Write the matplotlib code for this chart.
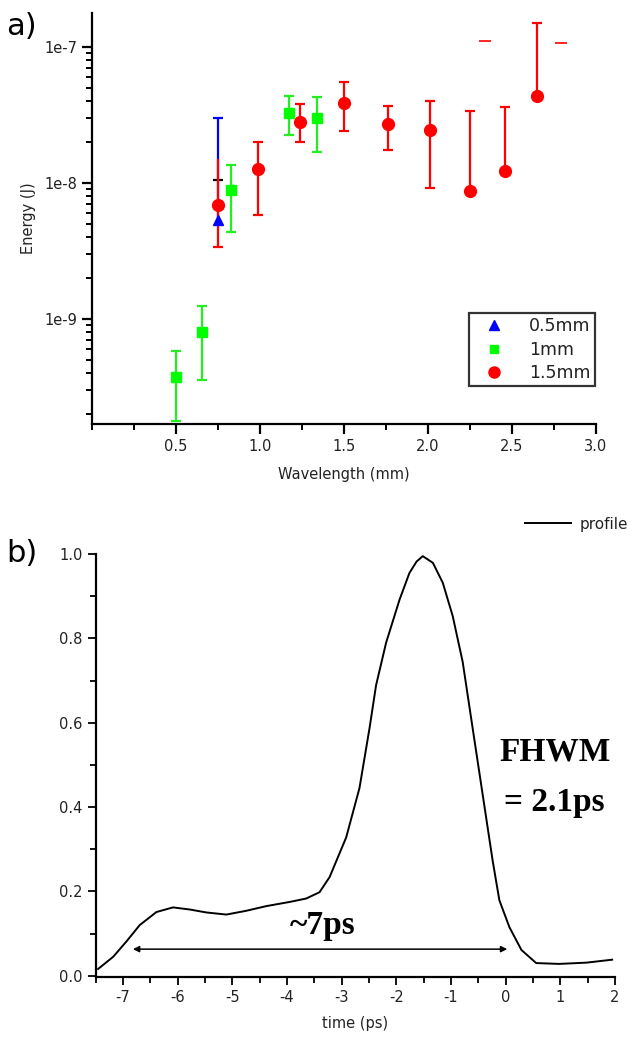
import matplotlib
matplotlib.use('Agg')
import matplotlib.pyplot as plt
from matplotlib.lines import Line2D
from matplotlib.ticker import LogLocator, NullFormatter, MultipleLocator

# panel a) energy vs wavelength
wl_05 = [0.75]
en_05 = [5.4e-9]
en_05_hi = [3.0e-8]

wl_10 = [0.50, 0.655, 0.83, 1.17, 1.34]
en_10 = [3.75e-10, 8.0e-10, 8.9e-9, 3.3e-8, 3.0e-8]
en_10_lo = [1.8e-10, 3.6e-10, 4.4e-9, 2.25e-8, 1.7e-8]
en_10_hi = [5.8e-10, 1.25e-9, 1.36e-8, 4.4e-8, 4.3e-8]

wl_15 = [0.75, 0.99, 1.24, 1.50, 1.76, 2.01, 2.25, 2.46, 2.65]
en_15 = [6.9e-9, 1.27e-8, 2.8e-8, 3.9e-8, 2.7e-8, 2.45e-8, 8.7e-9, 1.22e-8, 4.4e-8]
en_15_lo = [3.4e-9, 5.8e-9, 2.0e-8, 2.4e-8, 1.75e-8, 9.2e-9, 8.7e-9, 1.22e-8, 4.4e-8]
en_15_hi = [1.5e-8, 2.0e-8, 3.8e-8, 5.5e-8, 3.7e-8, 4.0e-8, 3.4e-8, 3.6e-8, 1.5e-7]
hi_cap_15 = [False, True, True, True, True, True, True, True, True]

# stray caps seen in the figure
stray_x = [2.34, 2.79]
stray_y = [1.1e-7, 1.07e-7]
black_cap_x = [0.75]
black_cap_y = [1.05e-8]

# panel b) temporal profile
t_ps = [-7.457, -7.18, -6.94, -6.696, -6.39, -6.087, -5.78, -5.476, -5.11, -4.745,
        -4.38, -3.95, -3.65, -3.405, -3.22, -3.13, -2.917, -2.674, -2.49, -2.37,
        -2.186, -1.94, -1.76, -1.63, -1.516, -1.33, -1.15, -0.968, -0.785, -0.603,
        -0.42, -0.237, -0.114, 0.07, 0.29, 0.56, 0.98, 1.48, 1.95]
profile = [0.016, 0.045, 0.081, 0.12, 0.151, 0.162, 0.157, 0.150, 0.145, 0.154,
           0.165, 0.175, 0.183, 0.198, 0.234, 0.262, 0.328, 0.445, 0.587, 0.689,
           0.79, 0.892, 0.955, 0.982, 0.995, 0.979, 0.932, 0.853, 0.744, 0.587,
           0.43, 0.273, 0.179, 0.115, 0.061, 0.03, 0.028, 0.031, 0.038]
arrow_t = [-6.82, 0.03]
arrow_y = 0.063

txt = '#222222'
plt.rcParams['font.family'] = 'DejaVu Sans'
plt.rcParams['axes.linewidth'] = 1.6
plt.rcParams['axes.unicode_minus'] = False

fig = plt.figure(figsize=(6.3, 10.41), dpi=100)
ax1 = fig.add_axes([0.146, 0.5927, 0.8, 0.3948])
ax2 = fig.add_axes([0.152, 0.0615, 0.824, 0.4063])

# ---- panel a
ax1.set_yscale('log')
ax1.vlines(wl_05, en_05, en_05_hi, color='#0000ff', lw=1.6, zorder=2)
ax1.plot(wl_05, en_05_hi, '_', color='#0000ff', ms=7, mew=1.6, zorder=2)

ax1.errorbar(wl_10, en_10,
             yerr=[[e - l for e, l in zip(en_10, en_10_lo)],
                   [h - e for e, h in zip(en_10, en_10_hi)]],
             fmt='s', color='#00ff00', ms=6.5, ecolor='#22ee22',
             elinewidth=1.6, capsize=3.5, capthick=1.6, zorder=3)

ax1.vlines(wl_15, en_15_lo, en_15_hi, color='#ff0000', lw=1.6, zorder=3)
ax1.plot(wl_15, en_15_lo, '_', color='#ff0000', ms=7, mew=1.6, zorder=3)
ax1.plot([x for x, c in zip(wl_15, hi_cap_15) if c],
         [y for y, c in zip(en_15_hi, hi_cap_15) if c],
         '_', color='#ff0000', ms=7, mew=1.6, zorder=3)
ax1.plot(wl_15, en_15, 'o', color='#ff0000', ms=8.5, zorder=4)
ax1.plot(wl_05, en_05, '^', color='#0000ff', ms=7, zorder=5)
ax1.plot(stray_x, stray_y, '_', color='#ff0000', ms=8, mew=1.2)
ax1.plot(black_cap_x, black_cap_y, '_', color='black', ms=7, mew=1.6, zorder=2.5)

ax1.set_xlim(0, 3.0)
ax1.set_ylim(1.7e-10, 1.78e-7)
ax1.set_xticks([0.5, 1.0, 1.5, 2.0, 2.5, 3.0])
ax1.set_xticklabels(['0.5', '1.0', '1.5', '2.0', '2.5', '3.0'])
ax1.xaxis.set_minor_locator(MultipleLocator(0.25))
ax1.set_yticks([1e-9, 1e-8, 1e-7])
ax1.set_yticklabels(['1e-9', '1e-8', '1e-7'])
ax1.yaxis.set_minor_locator(LogLocator(base=10, subs=range(2, 10)))
ax1.yaxis.set_minor_formatter(NullFormatter())
ax1.tick_params(which='major', length=7, width=1.6, labelsize=10.5, colors='black',
                labelcolor=txt)
ax1.tick_params(which='minor', length=4, width=1.4)
for s in ['top', 'right']:
    ax1.spines[s].set_visible(False)
ax1.set_xlabel('Wavelength (mm)', fontsize=10.5, color=txt, labelpad=10)
ax1.set_ylabel('Energy (J)', fontsize=10.5, color=txt, labelpad=6)

handles = [Line2D([], [], ls='none', marker='^', color='#0000ff', ms=7),
           Line2D([], [], ls='none', marker='s', color='#00ff00', ms=6),
           Line2D([], [], ls='none', marker='o', color='#ff0000', ms=8)]
leg = ax1.legend(handles, ['0.5mm', '1mm', '1.5mm'], loc='lower right',
                 bbox_to_anchor=(0.998, 0.092), fancybox=False, edgecolor='black',
                 fontsize=12.5, handlelength=2.4, handletextpad=0.8, borderpad=0.25,
                 labelspacing=0.3, borderaxespad=0)
leg.get_frame().set_linewidth(1.6)
for t in leg.get_texts():
    t.set_color(txt)

fig.text(0.01, 0.988, 'a)', fontsize=22, va='top', ha='left')

# ---- panel b
ax2.plot(t_ps, profile, color='black', lw=1.4, label='profile')
ax2.annotate('', xy=(arrow_t[0], arrow_y), xytext=(arrow_t[1], arrow_y),
             arrowprops=dict(arrowstyle='<|-|>', color='black', lw=1.1,
                             mutation_scale=9, shrinkA=0, shrinkB=0))
ax2.text(-3.35, 0.118, '~7ps', fontsize=24, fontweight='bold',
         family='Liberation Serif', ha='center', va='center')
ax2.text(0.9, 0.53, 'FHWM', fontsize=24, fontweight='bold',
         family='Liberation Serif', ha='center', va='center')
ax2.text(0.9, 0.41, '= 2.1ps', fontsize=24, fontweight='bold',
         family='Liberation Serif', ha='center', va='center')

ax2.set_xlim(-7.5, 2)
ax2.set_ylim(-0.003, 1.0)
ax2.set_xticks(range(-7, 3))
ax2.xaxis.set_minor_locator(MultipleLocator(0.5))
ax2.set_yticks([0.0, 0.2, 0.4, 0.6, 0.8, 1.0])
ax2.set_yticklabels(['0.0', '0.2', '0.4', '0.6', '0.8', '1.0'])
ax2.yaxis.set_minor_locator(MultipleLocator(0.1))
ax2.tick_params(which='major', length=6, width=1.3, labelsize=10.5, labelcolor=txt)
ax2.tick_params(which='minor', length=4, width=1.3)
for s in ['top', 'right']:
    ax2.spines[s].set_visible(False)
ax2.set_xlabel('time (ps)', fontsize=10.5, color=txt, labelpad=8)
leg2 = fig.legend(loc='center right', bbox_to_anchor=(1.0, 0.4966), frameon=False,
                  fontsize=11, handlelength=3.0, handletextpad=0.6, borderaxespad=0,
                  borderpad=0.1)
for t in leg2.get_texts():
    t.set_color(txt)

fig.text(0.01, 0.482, 'b)', fontsize=22, va='top', ha='left')

fig.savefig('out.png', dpi=100)
